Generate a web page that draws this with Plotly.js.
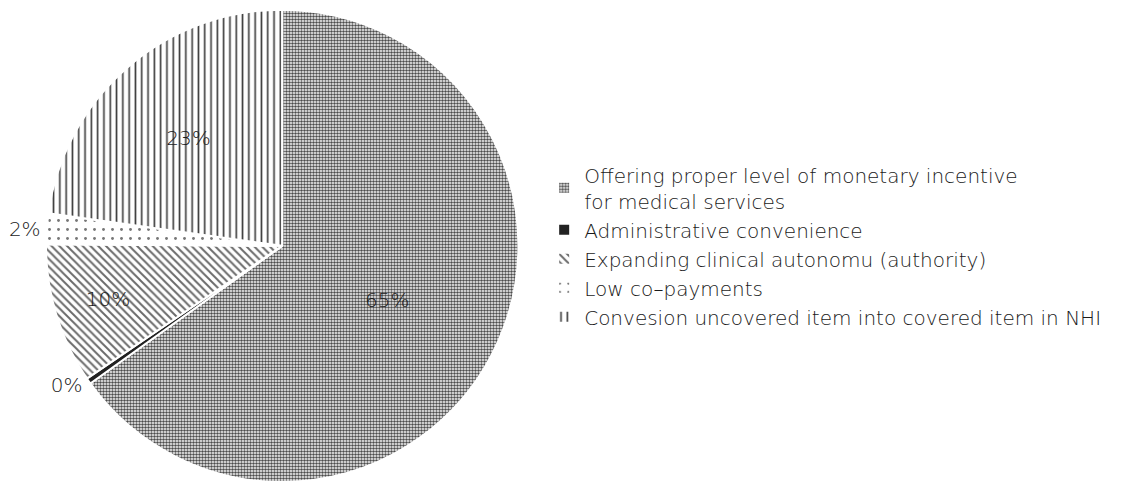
<!DOCTYPE html>
<html>
<head>
<meta charset="utf-8">
<script src="https://cdn.plot.ly/plotly-3.0.1.min.js"></script>
<style>html,body{margin:0;padding:0;background:#fff;}#chart{width:1122px;height:482px;}</style>
</head>
<body>
<div id="chart"></div>
<script>
const labels = [
  "Offering proper level of monetary incentive<br>for medical services",
  "Administrative convenience",
  "Expanding clinical autonomu (authority)",
  "Low co\u2013payments",
  "Convesion uncovered item into covered item in NHI"
];
const values = [65.1, 0.4, 9.6, 2.1, 22.8];
const textPositions = ["inside", "outside", "inside", "outside", "inside"];

const FONT = "DejaVu Sans, sans-serif";
const fnt = {family: FONT, size: 20, color: "#1a1a1a", weight: 200};

const trace = {
  type: "pie",
  labels: labels,
  values: values,
  sort: false,
  direction: "clockwise",
  rotation: 0,
  hole: 0,
  texttemplate: "%{percent:.0%}",
  textposition: textPositions,
  insidetextorientation: "horizontal",
  textfont: fnt,
  insidetextfont: fnt,
  outsidetextfont: fnt,
  domain: {x: [0.041, 0.462], y: [0, 0.98]},
  marker: {
    colors: ["#959595", "#222222", "#ffffff", "#ffffff", "#ffffff"],
    line: {color: "#ffffff", width: 2},
    pattern: {
      shape: [".", "", "\\", ".", "|"],
      fgcolor: ["#4c4c4c", "#222222", "#6a6a6a", "#777777", "#3c3c3c"],
      size: [3, 8, 5.5, 9, 6.3],
      solidity: [0.55, 0.3, 0.35, 0.08, 0.26],
      fillmode: "replace"
    }
  },
  showlegend: true,
  hoverinfo: "none"
};

const layout = {
  width: 1122,
  height: 482,
  margin: {l: 0, r: 0, t: 0, b: 0},
  paper_bgcolor: "#ffffff",
  showlegend: true,
  legend: {
    x: 0.485,
    y: 0.49,
    xanchor: "left",
    yanchor: "middle",
    font: fnt,
    tracegroupgap: 0,
    itemwidth: 30,
    bgcolor: "rgba(0,0,0,0)"
  }
};

Plotly.newPlot("chart", [trace], layout, {displayModeBar: false, staticPlot: true});
</script>
</body>
</html>
